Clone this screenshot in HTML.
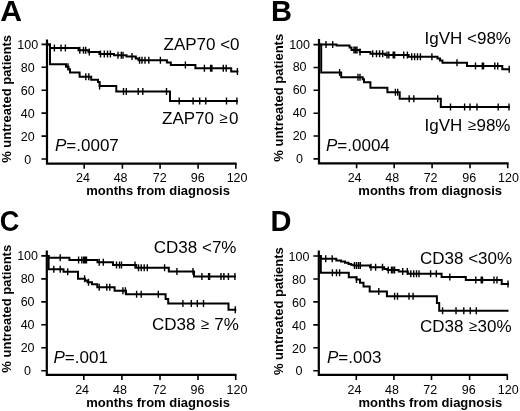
<!DOCTYPE html>
<html><head><meta charset="utf-8"><style>
html,body{margin:0;padding:0;background:#fff;width:520px;height:411px;overflow:hidden}
svg{display:block;will-change:transform}
text{font-family:"Liberation Sans",sans-serif;fill:#000}
.c{fill:none;stroke:#000;stroke-width:2;stroke-linejoin:miter;stroke-linecap:square}
.t{fill:none;stroke:#000;stroke-width:1.4}
.ax{fill:none;stroke:#000;stroke-width:2.2;stroke-linecap:butt}
.tk{fill:none;stroke:#000;stroke-width:1.6}
</style></head><body>
<svg width="520" height="411" viewBox="0 0 520 411">
<path d="M47 39.4V163.7H236.7" class="ax"/>
<path d="M41.5 44.40H47M41.5 67.32H47M41.5 90.24H47M41.5 113.16H47M41.5 136.08H47M41.5 159.00H47M84.2 163.7V168.7M122.4 163.7V168.7M160.1 163.7V168.7M198.1 163.7V168.7M235.8 163.7V168.7" class="tk"/>
<text x="27.8" y="49.40" font-size="12.5" text-anchor="middle" font-weight="normal" font-style="normal" >100</text>
<text x="27.8" y="72.32" font-size="12.5" text-anchor="middle" font-weight="normal" font-style="normal" >80</text>
<text x="27.8" y="95.24" font-size="12.5" text-anchor="middle" font-weight="normal" font-style="normal" >60</text>
<text x="27.8" y="118.16" font-size="12.5" text-anchor="middle" font-weight="normal" font-style="normal" >40</text>
<text x="27.8" y="141.08" font-size="12.5" text-anchor="middle" font-weight="normal" font-style="normal" >20</text>
<text x="27.8" y="164.00" font-size="12.5" text-anchor="middle" font-weight="normal" font-style="normal" >0</text>
<text x="83" y="181.7" font-size="12.5" text-anchor="middle" font-weight="normal" font-style="normal" >24</text>
<text x="120.6" y="181.7" font-size="12.5" text-anchor="middle" font-weight="normal" font-style="normal" >48</text>
<text x="159.8" y="181.7" font-size="12.5" text-anchor="middle" font-weight="normal" font-style="normal" >72</text>
<text x="197.7" y="181.7" font-size="12.5" text-anchor="middle" font-weight="normal" font-style="normal" >96</text>
<text x="237.1" y="181.7" font-size="12.5" text-anchor="middle" font-weight="normal" font-style="normal" >120</text>
<text x="158.1" y="194.6" font-size="13" text-anchor="middle" font-weight="bold" font-style="normal" >months from diagnosis</text>
<text transform="translate(11.1 98.9) rotate(-90)" x="0" y="0" font-size="13" font-weight="bold" text-anchor="middle">% untreated patients</text>
<text transform="translate(0.2 20.6) scale(1.04 1)" x="0" y="0" font-size="29" font-weight="bold">A</text>
<text x="163.5" y="49.8" font-size="17" text-anchor="start" font-weight="normal" font-style="normal" >ZAP70 &lt;0</text>
<text x="162" y="124" font-size="17" text-anchor="start" font-weight="normal" font-style="normal" >ZAP70 <tspan font-size="15" baseline-shift="1.2" dx="0.6">≥</tspan><tspan dx="1.4">0</tspan></text>
<text x="55" y="151" font-size="17" text-anchor="start" font-weight="normal" font-style="normal" ><tspan font-style="italic">P</tspan>=.0007</text>
<path d="M47 44.6H50V47.9H78.5V50.2H88.5V52H99.4V54H114V55.2H126.5V56.4H135.8V58.4H138.5V60.2H166.9V62.5H170.8V65.1H195.4V68.3H231.2V71.6H237.4" class="c"/>
<path d="M54.4 44.40v7M61 44.40v7M65.4 44.40v7M79.8 46.70v7M83.5 46.70v7M85.7 46.70v7M89.3 48.50v7M100.5 50.50v7M104.3 50.50v7M107.5 50.50v7M110.4 50.50v7M118 51.70v7M121.3 51.70v7M123 51.70v7M132 52.90v7M139.6 56.70v7M142 56.70v7M145 56.70v7M148.8 56.70v7M160.4 56.70v7M185.4 61.60v7M204.4 64.80v7M210.6 64.80v7M211.9 64.80v7M223.3 64.80v7M226.2 64.80v7M237.4 68.10v7" class="t"/>
<path d="M47 44.6H50V64.3H66V66.7H68.5V69.2H70V72.4H79.6V76.7H91.2V79.7H98V82H99.6V85.9H116.3V91.4H170V100.9H236.9" class="c"/>
<path d="M68 63.20v7M85.8 73.20v7M88.8 73.20v7M99.6 82.40v7M123.5 87.90v7M126.3 87.90v7M138.2 87.90v7M142.8 87.90v7M166.5 87.90v7M179.2 97.40v7M193.1 97.40v7M199.7 97.40v7M205.8 97.40v7M226.5 97.40v7M236.9 97.40v7" class="t"/>
<path d="M319 39V163.3H508.6" class="ax"/>
<path d="M313.5 44.60H319M313.5 67.46H319M313.5 90.32H319M313.5 113.18H319M313.5 136.04H319M313.5 158.90H319M356.6 163.3V168.3M394.2 163.3V168.3M432.1 163.3V168.3M470 163.3V168.3M507.7 163.3V168.3" class="tk"/>
<text x="299.6" y="48.60" font-size="12.5" text-anchor="middle" font-weight="normal" font-style="normal" >100</text>
<text x="299.6" y="71.46" font-size="12.5" text-anchor="middle" font-weight="normal" font-style="normal" >80</text>
<text x="299.6" y="94.32" font-size="12.5" text-anchor="middle" font-weight="normal" font-style="normal" >60</text>
<text x="299.6" y="117.18" font-size="12.5" text-anchor="middle" font-weight="normal" font-style="normal" >40</text>
<text x="299.6" y="140.04" font-size="12.5" text-anchor="middle" font-weight="normal" font-style="normal" >20</text>
<text x="299.6" y="162.90" font-size="12.5" text-anchor="middle" font-weight="normal" font-style="normal" >0</text>
<text x="354.6" y="181.7" font-size="12.5" text-anchor="middle" font-weight="normal" font-style="normal" >24</text>
<text x="392.3" y="181.7" font-size="12.5" text-anchor="middle" font-weight="normal" font-style="normal" >48</text>
<text x="430.6" y="181.7" font-size="12.5" text-anchor="middle" font-weight="normal" font-style="normal" >72</text>
<text x="469.2" y="181.7" font-size="12.5" text-anchor="middle" font-weight="normal" font-style="normal" >96</text>
<text x="508.5" y="181.7" font-size="12.5" text-anchor="middle" font-weight="normal" font-style="normal" >120</text>
<text x="430.2" y="194.6" font-size="13" text-anchor="middle" font-weight="bold" font-style="normal" >months from diagnosis</text>
<text transform="translate(283.4 97.8) rotate(-90)" x="0" y="0" font-size="13" font-weight="bold" text-anchor="middle">% untreated patients</text>
<text transform="translate(271 21.2) scale(1 1)" x="0" y="0" font-size="29" font-weight="bold">B</text>
<text x="424.5" y="44.4" font-size="17" text-anchor="start" font-weight="normal" font-style="normal" >IgVH &lt;98%</text>
<text x="424.5" y="130.8" font-size="17" text-anchor="start" font-weight="normal" font-style="normal" >IgVH <tspan font-size="15" baseline-shift="1.2" dx="0.6">≥</tspan><tspan dx="0.6">98%</tspan></text>
<text x="326" y="151" font-size="17" text-anchor="start" font-weight="normal" font-style="normal" ><tspan font-style="italic">P</tspan>=.0004</text>
<path d="M319 44.6H336.5V45.6H349.6V47.5H351.5V50H359.8V52H370.4V53.8H385.2V55H408.6V56.7H437.5V58.5H440V60.5H442.5V62.8H467V66.1H502.3V69.2H509" class="c"/>
<path d="M326 41.10v7M332.7 41.10v7M354 46.50v7M355.5 46.50v7M357 46.50v7M360 48.50v7M372.7 50.30v7M376.5 50.30v7M379.6 50.30v7M382.7 50.30v7M387 51.50v7M388.8 51.50v7M393.2 51.50v7M394.6 51.50v7M403.7 51.50v7M407.4 51.50v7M411.7 53.20v7M414.6 53.20v7M417.5 53.20v7M420.4 53.20v7M431.9 53.20v7M457 59.30v7M475.5 62.60v7M482.3 62.60v7M483.5 62.60v7M494.8 62.60v7M497.7 62.60v7M509.2 65.70v7" class="t"/>
<path d="M319 44.6H321.2V72.6H341.2V77.2H362.7V79.2H364V82.3H370.4V87.7H387.4V92.3H399.7V98.8H440.8V106.9H509" class="c"/>
<path d="M339.6 69.10v7M358 73.70v7M360 73.70v7M395.4 88.80v7M397.7 88.80v7M409.2 95.30v7M413.8 95.30v7M437.7 95.30v7M450.5 103.40v7M464.6 103.40v7M470 103.40v7M477 103.40v7M498.2 103.40v7M509 103.40v7" class="t"/>
<path d="M46.8 250.4V374.9H236.5" class="ax"/>
<path d="M41.3 255.90H46.8M41.3 278.87H46.8M41.3 301.84H46.8M41.3 324.81H46.8M41.3 347.78H46.8M41.3 370.75H46.8M83.8 374.9V379.9M121.9 374.9V379.9M160 374.9V379.9M198 374.9V379.9M235.7 374.9V379.9" class="tk"/>
<text x="27.6" y="259.70" font-size="12.5" text-anchor="middle" font-weight="normal" font-style="normal" >100</text>
<text x="27.6" y="282.67" font-size="12.5" text-anchor="middle" font-weight="normal" font-style="normal" >80</text>
<text x="27.6" y="305.64" font-size="12.5" text-anchor="middle" font-weight="normal" font-style="normal" >60</text>
<text x="27.6" y="328.61" font-size="12.5" text-anchor="middle" font-weight="normal" font-style="normal" >40</text>
<text x="27.6" y="351.58" font-size="12.5" text-anchor="middle" font-weight="normal" font-style="normal" >20</text>
<text x="27.6" y="374.55" font-size="12.5" text-anchor="middle" font-weight="normal" font-style="normal" >0</text>
<text x="82.1" y="393.7" font-size="12.5" text-anchor="middle" font-weight="normal" font-style="normal" >24</text>
<text x="119.9" y="393.7" font-size="12.5" text-anchor="middle" font-weight="normal" font-style="normal" >48</text>
<text x="159.6" y="393.7" font-size="12.5" text-anchor="middle" font-weight="normal" font-style="normal" >72</text>
<text x="197.5" y="393.7" font-size="12.5" text-anchor="middle" font-weight="normal" font-style="normal" >96</text>
<text x="237" y="393.7" font-size="12.5" text-anchor="middle" font-weight="normal" font-style="normal" >120</text>
<text x="158.1" y="407" font-size="13" text-anchor="middle" font-weight="bold" font-style="normal" >months from diagnosis</text>
<text transform="translate(11.3 308.75) rotate(-90)" x="0" y="0" font-size="13" font-weight="bold" text-anchor="middle">% untreated patients</text>
<text transform="translate(-0.2 230.9) scale(0.935 1)" x="0" y="0" font-size="29" font-weight="bold">C</text>
<text x="153.8" y="252.7" font-size="17" text-anchor="start" font-weight="normal" font-style="normal" >CD38 &lt;7%</text>
<text x="152" y="330.2" font-size="17" text-anchor="start" font-weight="normal" font-style="normal" >CD38 <tspan font-size="15" baseline-shift="1.2" dx="0.6">≥</tspan><tspan dx="0.6"> 7%</tspan></text>
<text x="53.5" y="363" font-size="17" text-anchor="start" font-weight="normal" font-style="normal" ><tspan font-style="italic">P</tspan>=.001</text>
<path d="M47 255.9H48.6V257.8H69.4V259.9H97.5V262.3H113V265H136.2V267.7H168.8V271.6H194V276.6H234.9" class="c"/>
<path d="M60.2 254.30v7M78.6 256.40v7M81.8 256.40v7M83.7 256.40v7M85.1 256.40v7M86.5 256.40v7M99.2 258.80v7M103.3 258.80v7M116.5 261.50v7M119.5 261.50v7M121.5 261.50v7M135 261.50v7M138.5 264.20v7M141.2 264.20v7M144.2 264.20v7M147.3 264.20v7M164.6 264.20v7M176.9 268.10v7M193 268.10v7M201.9 273.10v7M208.6 273.10v7M209.6 273.10v7M221 273.10v7M223.9 273.10v7M228.4 273.10v7M234.9 273.10v7" class="t"/>
<path d="M47 255.9H48.6V269.3H63.5V271.7H78V278.8H85V280.5H87.5V282.3H92V284.2H97.3V287.3H114.6V290.8H126V294.3H165.6V299H168.2V303.4H228.5V309.7H235.3" class="c"/>
<path d="M53.8 265.80v7M60.2 265.80v7M67.7 268.20v7M84.6 275.30v7M88.5 278.80v7M99.2 283.80v7M106.8 283.80v7M109.8 283.80v7M122.9 287.30v7M125.4 287.30v7M136.6 290.80v7M141.2 290.80v7M158.3 290.80v7M182.9 299.90v7M191.3 299.90v7M197.3 299.90v7M203.5 299.90v7M235.3 306.20v7" class="t"/>
<path d="M318.8 250.6V374.9H507.8" class="ax"/>
<path d="M313.3 256.00H318.8M313.3 278.95H318.8M313.3 301.90H318.8M313.3 324.85H318.8M313.3 347.80H318.8M313.3 370.75H318.8M356.3 374.9V379.9M393.9 374.9V379.9M431.5 374.9V379.9M469.6 374.9V379.9M507.3 374.9V379.9" class="tk"/>
<text x="299" y="260.70" font-size="12.5" text-anchor="middle" font-weight="normal" font-style="normal" >100</text>
<text x="299" y="283.65" font-size="12.5" text-anchor="middle" font-weight="normal" font-style="normal" >80</text>
<text x="299" y="306.60" font-size="12.5" text-anchor="middle" font-weight="normal" font-style="normal" >60</text>
<text x="299" y="329.55" font-size="12.5" text-anchor="middle" font-weight="normal" font-style="normal" >40</text>
<text x="299" y="352.50" font-size="12.5" text-anchor="middle" font-weight="normal" font-style="normal" >20</text>
<text x="299" y="375.45" font-size="12.5" text-anchor="middle" font-weight="normal" font-style="normal" >0</text>
<text x="354.4" y="393.7" font-size="12.5" text-anchor="middle" font-weight="normal" font-style="normal" >24</text>
<text x="392" y="393.7" font-size="12.5" text-anchor="middle" font-weight="normal" font-style="normal" >48</text>
<text x="430.2" y="393.7" font-size="12.5" text-anchor="middle" font-weight="normal" font-style="normal" >72</text>
<text x="468.8" y="393.7" font-size="12.5" text-anchor="middle" font-weight="normal" font-style="normal" >96</text>
<text x="508.2" y="393.7" font-size="12.5" text-anchor="middle" font-weight="normal" font-style="normal" >120</text>
<text x="430.4" y="407" font-size="13" text-anchor="middle" font-weight="bold" font-style="normal" >months from diagnosis</text>
<text transform="translate(283.4 311.15) rotate(-90)" x="0" y="0" font-size="13" font-weight="bold" text-anchor="middle">% untreated patients</text>
<text transform="translate(270.5 231.2) scale(1 1)" x="0" y="0" font-size="29" font-weight="bold">D</text>
<text x="420" y="263.6" font-size="17" text-anchor="start" font-weight="normal" font-style="normal" >CD38 &lt;30%</text>
<text x="420" y="331.6" font-size="17" text-anchor="start" font-weight="normal" font-style="normal" >CD38 <tspan font-size="15" baseline-shift="1.2" dx="0.6">≥</tspan><tspan dx="0.6">30%</tspan></text>
<text x="327" y="363" font-size="17" text-anchor="start" font-weight="normal" font-style="normal" ><tspan font-style="italic">P</tspan>=.003</text>
<path d="M318.8 256H320.8V258.7H336.3V260.5H341V261.6H345V262.8H348.5V264H351V264.8H353.6V265.5H370V267.2H384.2V269H387.5V270H398.7V271.5H407.9V273.8H441.6V276.9H465.8V280.1H501.7V283.9H508" class="c"/>
<path d="M325.7 255.20v7M332.2 255.20v7M354.5 262.00v7M356.5 262.00v7M358.5 262.00v7M360.3 262.00v7M371 263.70v7M375.6 263.70v7M382.5 263.70v7M388.3 266.50v7M391.5 266.50v7M393 266.50v7M394.6 266.50v7M402.7 268.00v7M407.3 268.00v7M410.8 270.30v7M413.7 270.30v7M416.5 270.30v7M419 270.30v7M430.6 270.30v7M436.3 270.30v7M449.8 273.40v7M475.8 276.60v7M481.2 276.60v7M482.5 276.60v7M494 276.60v7M497 276.60v7M508 280.40v7" class="t"/>
<path d="M318.8 256H320.8V272.7H348.8V277.3H356.5V279.6H360V282.7H363.5V286.5H369.7V291.6H386.9V296.2H436.9V303H439.2V310.8H507.5" class="c"/>
<path d="M332.4 269.20v7M336.5 269.20v7M339.6 269.20v7M356.5 276.10v7M378.8 288.10v7M394.6 292.70v7M397.5 292.70v7M409 292.70v7M413.1 292.70v7M442.6 307.30v7M456 307.30v7M463.8 307.30v7M470.3 307.30v7M476.3 307.30v7" class="t"/>
</svg></body></html>
